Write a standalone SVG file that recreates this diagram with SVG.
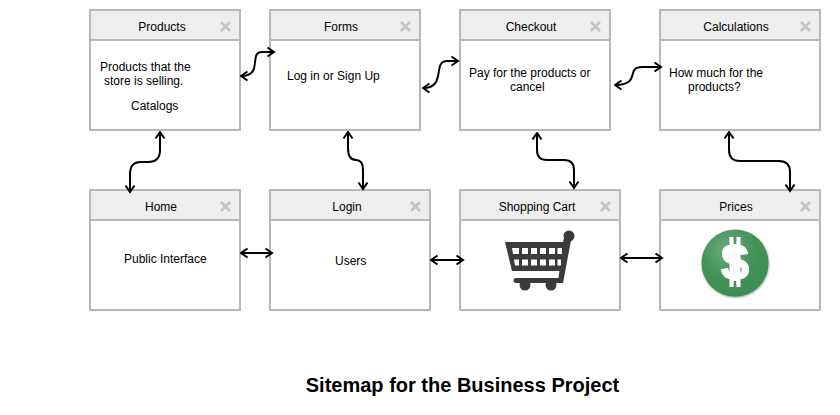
<svg xmlns="http://www.w3.org/2000/svg" width="840" height="415" viewBox="0 0 840 415">
<style>
text{font-family:"Liberation Sans",Arial,sans-serif;font-size:12px;fill:#000}
.t{text-anchor:middle}
.b{fill:#fff;stroke:#b8b8b8;stroke-width:2}
.h{fill:#eee;stroke:#b8b8b8;stroke-width:2}
.x{stroke:#c4c4c4;stroke-width:2.6;fill:none}
.c{fill:none;stroke:#000;stroke-width:2;marker-start:url(#s);marker-end:url(#e)}
.k{fill:#3b3b3d}
.w{fill:#fff}
</style>
<defs>
<marker id="e" viewBox="0 0 12 12" refX="10.500" refY="6" markerWidth="12" markerHeight="12" markerUnits="userSpaceOnUse" orient="auto"><path d="M4 1.500L10.500 6L4 10.500" fill="none" stroke="#000" stroke-width="2"/></marker>
<marker id="s" viewBox="0 0 12 12" refX="1.500" refY="6" markerWidth="12" markerHeight="12" markerUnits="userSpaceOnUse" orient="auto"><path d="M8 1.500L1.500 6L8 10.500" fill="none" stroke="#000" stroke-width="2"/></marker>
<radialGradient id="g" cx="0.38" cy="0.3" r="0.75"><stop offset="0" stop-color="#6ea87c"/><stop offset="0.55" stop-color="#439358"/><stop offset="1" stop-color="#3a8c50"/></radialGradient>
<filter id="f" x="-20%" y="-20%" width="140%" height="140%"><feGaussianBlur stdDeviation="0.8"/></filter>
</defs>
<g id="products"><rect class="b" x="90" y="10" width="150" height="120"/><rect class="h" x="90" y="10" width="150" height="30"/><path class="x" d="M221 22l9 9M230 22l-9 9"/><text class="t" x="162" y="31">Products</text><text x="100" y="71">Products that the</text><text x="104" y="85">store is selling.</text><text x="131" y="110">Catalogs</text></g>
<g id="forms"><rect class="b" x="270" y="10" width="150" height="120"/><rect class="h" x="270" y="10" width="150" height="30"/><path class="x" d="M401 22l9 9M410 22l-9 9"/><text class="t" x="341" y="31">Forms</text><text x="287" y="80">Log in or Sign Up</text></g>
<g id="checkout"><rect class="b" x="460" y="10" width="150" height="120"/><rect class="h" x="460" y="10" width="150" height="30"/><path class="x" d="M591 22l9 9M600 22l-9 9"/><text class="t" x="531" y="31">Checkout</text><text x="469" y="77">Pay for the products or</text><text x="510" y="91">cancel</text></g>
<g id="calculations"><rect class="b" x="660" y="10" width="160" height="120"/><rect class="h" x="660" y="10" width="160" height="30"/><path class="x" d="M801 22l9 9M810 22l-9 9"/><text class="t" x="736" y="31">Calculations</text><text x="669" y="77">How much for the</text><text x="688" y="91">products?</text></g>
<g id="home"><rect class="b" x="90" y="190" width="150" height="120"/><rect class="h" x="90" y="190" width="150" height="30"/><path class="x" d="M221 202l9 9M230 202l-9 9"/><text class="t" x="161" y="211">Home</text><text x="124" y="263">Public Interface</text></g>
<g id="login"><rect class="b" x="270" y="190" width="160" height="120"/><rect class="h" x="270" y="190" width="160" height="30"/><path class="x" d="M411 202l9 9M420 202l-9 9"/><text class="t" x="347" y="211">Login</text><text x="335" y="265">Users</text></g>
<g id="shopping-cart"><rect class="b" x="460" y="190" width="160" height="120"/><rect class="h" x="460" y="190" width="160" height="30"/><path class="x" d="M601 202l9 9M610 202l-9 9"/><text class="t" x="537" y="211">Shopping Cart</text>
<path class="k" d="M505 242H563L565 234L572 235L563 283H516Q513.500 283 513.500 280.500Q513.500 278 516 278H558.500L559.500 271H512Z"/>
<circle class="k" cx="569" cy="236" r="5.500"/><circle class="k" cx="525" cy="285" r="5.500"/><circle class="k" cx="551" cy="285" r="5.500"/>
<path class="w" d="M512 248H519V254H513ZM522 248H528V254H522ZM531 248H537V254H531ZM540 248H546V254H540ZM549 248H555V254H549ZM557.500 248H562V254H557.500ZM514 259.500H519V265.500H515ZM522 259.500H528V265.500H522ZM531 259.500H537V265.500H531ZM540 259.500H546V265.500H540ZM549 259.500H555V265.500H549ZM557.500 259.500H561V265.500H557.500Z"/>
</g>
<g id="prices"><rect class="b" x="660" y="190" width="160" height="120"/><rect class="h" x="660" y="190" width="160" height="30"/><path class="x" d="M801 202l9 9M810 202l-9 9"/><text class="t" x="736" y="211">Prices</text>
<circle cx="735.500" cy="264" r="33.500" fill="#8a9a8e" filter="url(#f)"/><circle cx="735" cy="263" r="33.500" fill="url(#g)"/>
<text x="735" y="280" text-anchor="middle" style="font-size:52px;font-weight:bold;fill:#fff;stroke:#fff;stroke-width:.8">$</text>
<rect x="733.500" y="236" width="3" height="8" fill="#4a965e"/><rect x="733.500" y="281" width="3" height="8" fill="#439358"/>
<rect x="729.500" y="237" width="4" height="50" fill="#fff"/><rect x="736.500" y="237" width="4" height="50" fill="#fff"/>
</g>
<text id="title" x="462.500" y="392" text-anchor="middle" style="font-size:20px;font-weight:bold">Sitemap for the Business Project</text>
<g id="connectors">
<path class="c" d="M241 76C264 76 248 52 262 52L274 52"/>
<path class="c" d="M423 88C447 88 432 61 447 61L458 61"/>
<path class="c" d="M615 85C642 85 625 67 642 67L661 67"/>
<path class="c" d="M160 132V150Q160 162 148 162H141Q130 162 130 174V192"/>
<path class="c" d="M348 132V148Q348 160 356 160Q363 160 363 170V189"/>
<path class="c" d="M537 133V150Q537 160 547 160H564Q574 160 574 170V188"/>
<path class="c" d="M729 132V150Q729 161 740 161H779Q790 161 790 172V191"/>
<path class="c" d="M241 253H272"/>
<path class="c" d="M431 260H463"/>
<path class="c" d="M621 258H662"/>
</g>
</svg>
